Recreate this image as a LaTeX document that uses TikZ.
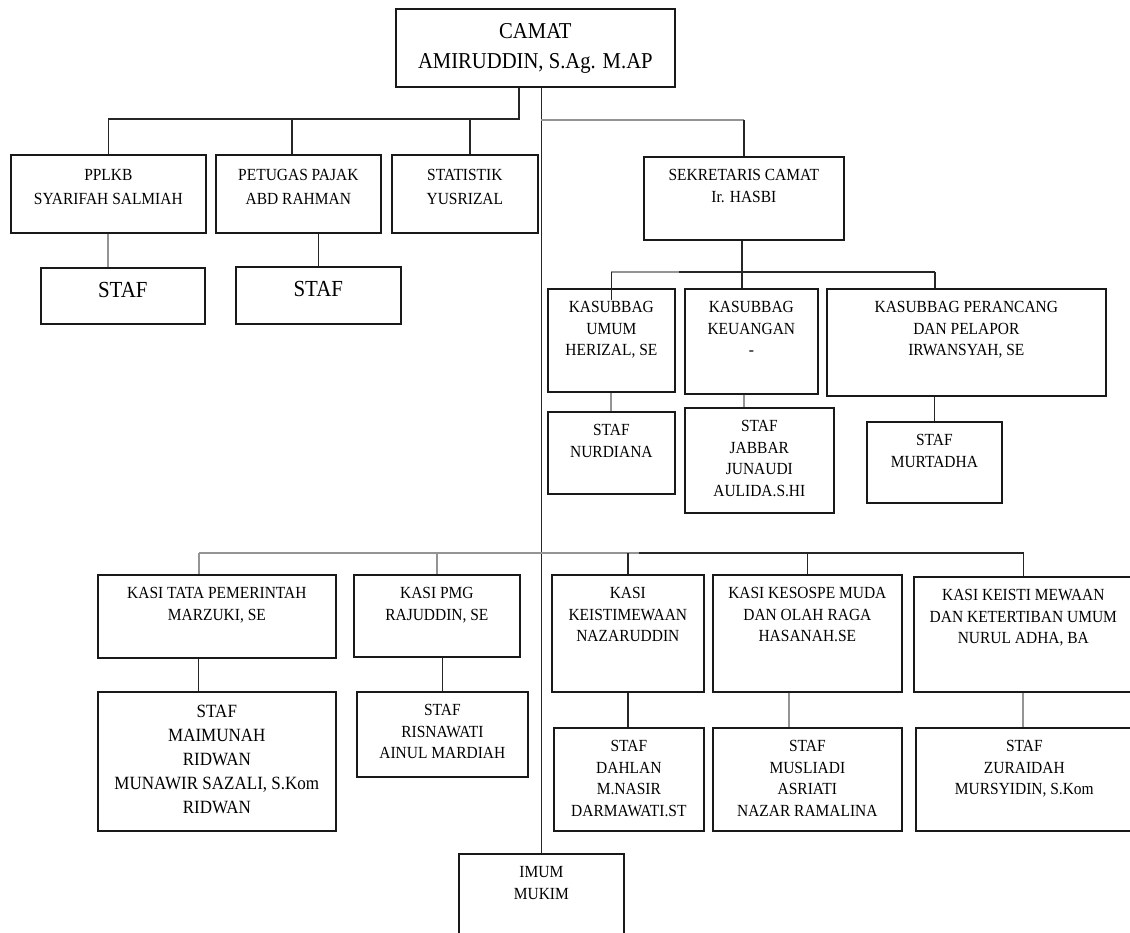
\documentclass[tikz,border=0pt]{standalone}
\usepackage{fontspec}
\setmainfont{Liberation Serif}[FakeStretch=0.91]
\usepackage{tikz}
\usetikzlibrary{positioning, calc}

% top aligned text block of a fixed size inside a unit box
\newcommand{\cell}[3]{\parbox[t][#2][t]{#1}{\centering\vspace*{9pt}\strut #3\par}}

\begin{document}
\begin{tikzpicture}[
  x=1pt, y=-1pt,
  unit/.style={
    rectangle, draw=black!90, line width=1.7pt,
    inner sep=0pt, anchor=north west,
    font=\fontsize{17}{21.5}\selectfont,
  },
  head/.style={unit, font=\fontsize{22.7}{30}\selectfont},
  bigstaf/.style={unit, font=\fontsize{23}{30}\selectfont},
  wide/.style={unit, font=\fontsize{17}{24}\selectfont},
  crew/.style={unit, font=\fontsize{18.7}{24}\selectfont},
  link/.style={draw=black!85, line width=1.5pt},
  faint/.style={draw=black!42, line width=1.9pt},
]
\useasboundingbox (0,0) rectangle (1130,932);

% Camat and the units directly under him.
\node[head] (camat)     at (395,8)   {\cell{279pt}{78pt}{CAMAT\\AMIRUDDIN, S.Ag. M.AP}};
\node[wide] (pplkb)     at (10,154)  {\cell{195pt}{78pt}{PPLKB\\SYARIFAH SALMIAH}};
\node[wide] (pajak)     at (215,154) {\cell{165pt}{78pt}{PETUGAS PAJAK\\ABD RAHMAN}};
\node[wide] (statistik) at (391,154) {\cell{146pt}{78pt}{STATISTIK\\YUSRIZAL}};
\node[bigstaf] (stafA)  at (40,267)  {\cell{164pt}{56pt}{STAF}};
\node[bigstaf] (stafB)  at (235,266) {\cell{165pt}{57pt}{STAF}};

% Sekretariat.
\node[unit] (sekcam)    at (643,156) {\cell{200pt}{83pt}{SEKRETARIS CAMAT\\Ir. HASBI}};
\node[unit] (umum)      at (547,288) {\cell{127pt}{103pt}{KASUBBAG\\UMUM\\HERIZAL, SE}};
\node[unit] (keu)       at (684,288) {\cell{133pt}{105pt}{KASUBBAG\\KEUANGAN\\-}};
\node[unit] (pelapor)   at (826,288) {\cell{279pt}{107pt}{KASUBBAG PERANCANG\\DAN PELAPOR\\IRWANSYAH, SE}};
\node[unit] (stafUmum)  at (547,411) {\cell{127pt}{82pt}{STAF\\NURDIANA}};
\node[unit] (stafKeu)   at (684,407) {\cell{149pt}{105pt}{STAF\\JABBAR\\JUNAUDI\\AULIDA.S.HI}};
\node[unit] (stafPel)   at (866,421) {\cell{135pt}{81pt}{STAF\\MURTADHA}};

% Kepala seksi and their staff.
\node[unit] (tapem)     at (97,574)  {\cell{238pt}{83pt}{KASI TATA PEMERINTAH\\MARZUKI, SE}};
\node[unit] (pmg)       at (353,574) {\cell{166pt}{82pt}{KASI PMG\\RAJUDDIN, SE}};
\node[unit] (keist)     at (551,574) {\cell{152pt}{117pt}{KASI\\KEISTIMEWAAN\\NAZARUDDIN}};
\node[unit] (kesos)     at (712,574) {\cell{189pt}{117pt}{KASI KESOSPE MUDA\\DAN OLAH RAGA\\HASANAH.SE}};
\node[unit] (trantib)   at (913,576) {\cell{219pt}{115pt}{KASI KEISTI MEWAAN\\DAN KETERTIBAN UMUM\\NURUL ADHA, BA}};
\node[crew] (stafTapem) at (97,691)  {\cell{238pt}{139pt}{STAF\\MAIMUNAH\\RIDWAN\\MUNAWIR SAZALI, S.Kom\\RIDWAN}};
\node[unit] (stafPmg)   at (356,691) {\cell{171pt}{85pt}{STAF\\RISNAWATI\\AINUL MARDIAH}};
\node[unit] (stafKeist) at (553,727) {\cell{150pt}{103pt}{STAF\\DAHLAN\\M.NASIR\\DARMAWATI.ST}};
\node[unit] (stafKesos) at (712,727) {\cell{189pt}{103pt}{STAF\\MUSLIADI\\ASRIATI\\NAZAR RAMALINA}};
\node[unit] (stafTrantib) at (915,727) {\cell{217pt}{103pt}{STAF\\ZURAIDAH\\MURSYIDIN, S.Kom}};
\node[unit] (imum)      at (458,853) {\cell{165pt}{100pt}{IMUM\\MUKIM}};

% Bus lines.
\coordinate (rowA) at (0,119);
\coordinate (rowS) at (0,120);
\coordinate (rowK) at (0,272);
\coordinate (rowB) at (0,553);

% Main line from the camat down to the imum mukim.
\draw[link] (camat.south -| imum.north) -- (imum.north);

% Units left of the main line.
\draw[link] ([xshift=-16.5]camat.south) |- (pplkb.north |- rowA) -- (pplkb.north);
\foreach \n/\dx in {pajak/-6.5, statistik/5} {
  \draw[link] ([xshift=\dx]\n.north |- rowA) -- ([xshift=\dx]\n.north);
}
\draw[faint] (pplkb.south) -- (pplkb.south |- stafA.north);
\draw[link] (stafB.north |- pajak.south) -- (stafB.north);

% Sekretariat.
\draw[faint] (imum.north |- rowS) -- (sekcam.north |- rowS);
\draw[link] (sekcam.north |- rowS) -- (sekcam.north);
\draw[link] ([xshift=-2]sekcam.south) -- ([xshift=-2]sekcam.south |- keu.north);
\draw[faint] (umum.north |- rowK) -- ([xshift=68]umum.north |- rowK);
\draw[link] ([xshift=68]umum.north |- rowK) -- ([xshift=-31.5]pelapor.north |- rowK);
\draw[link] (umum.north |- rowK) -- ([yshift=-12]umum.north);
\draw[link] ([xshift=-31.5]pelapor.north |- rowK) -- ([xshift=-31.5]pelapor.north);
\draw[faint] (umum.south) -- (stafUmum.north);
\draw[faint] ([xshift=-7.5]keu.south) -- ([xshift=-7.5]keu.south |- stafKeu.north);
\draw[link] (stafPel.north |- pelapor.south) -- (stafPel.north);

% Kepala seksi.
\draw[faint] ([xshift=-18]tapem.north |- rowB) -- ([xshift=11]keist.north |- rowB);
\draw[link] ([xshift=11]keist.north |- rowB) -| (trantib.north);
\draw[faint] ([xshift=-18]tapem.north |- rowB) -- ([xshift=-18]tapem.north);
\draw[faint] (pmg.north |- rowB) -- (pmg.north);
\foreach \n in {keist, kesos} {
  \draw[link] (\n.north |- rowB) -- (\n.north);
}
\draw[link] ([xshift=-18.5]tapem.south) -- ([xshift=-18.5]tapem.south |- stafTapem.north);
\draw[link] (stafPmg.north |- pmg.south) -- (stafPmg.north);
\draw[link] (keist.south) -- (keist.south |- stafKeist.north);
\draw[faint] ([xshift=-18.5]kesos.south) -- ([xshift=-18.5]kesos.south |- stafKesos.north);
\draw[faint] (trantib.south) -- (trantib.south |- stafTrantib.north);

\end{tikzpicture}
\end{document}
